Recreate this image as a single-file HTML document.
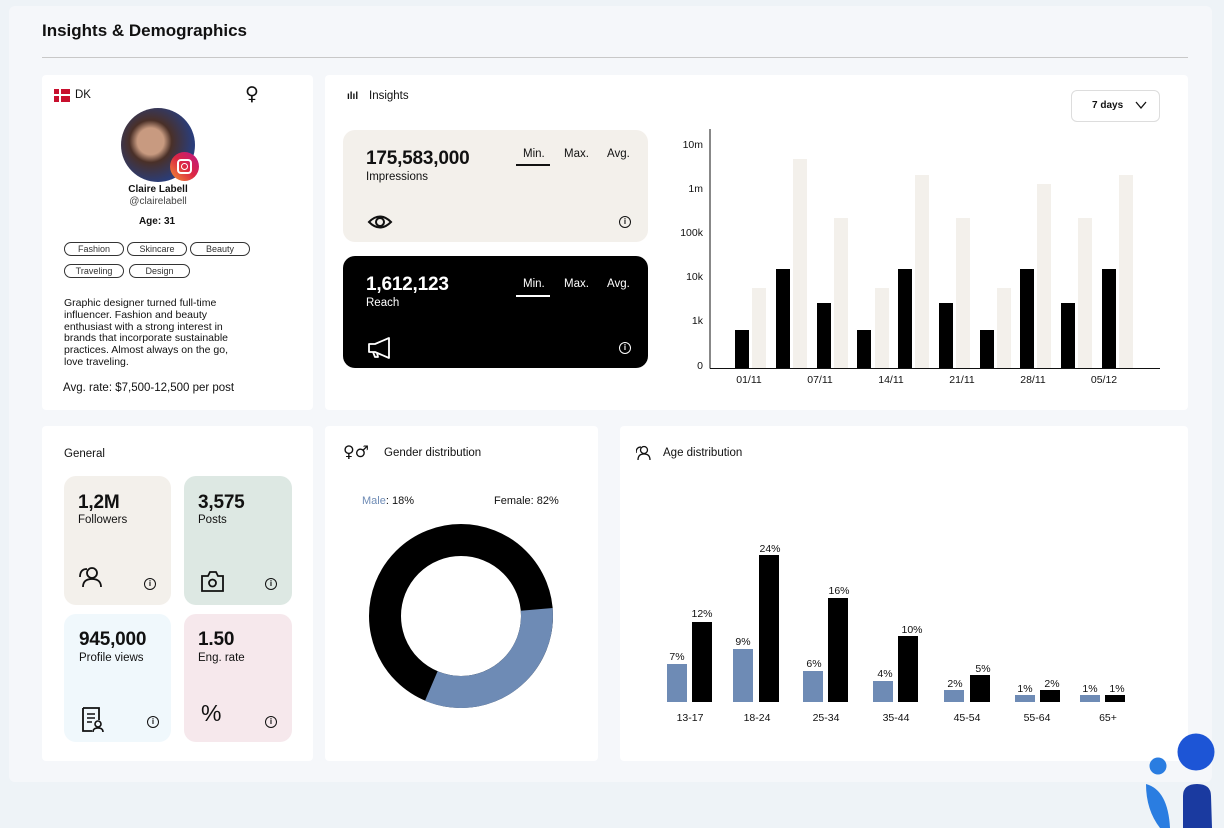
<!DOCTYPE html>
<html><head><meta charset="utf-8"><style>
*{margin:0;padding:0;box-sizing:border-box}
body{width:1224px;height:828px;background:#eef3f7;font-family:"Liberation Sans",sans-serif;color:#111;position:relative;overflow:hidden}
.a{position:absolute}
.card{position:absolute;background:#fff;border-radius:4px}
.tile{position:absolute;border-radius:12px}
.big{font-size:19px;font-weight:bold;letter-spacing:-0.2px}
.sm{font-size:11.5px}
.tag{position:absolute;height:14px;border:1px solid #333;border-radius:8px;font-size:9px;text-align:center;line-height:12px;color:#333}
.info{position:absolute;width:12px;height:12px;border:1.2px solid #111;border-radius:50%;font-size:8px;text-align:center;line-height:10px;font-weight:bold}
</style></head><body>
<div class="a" style="left:9px;top:6px;width:1203px;height:776px;background:#f5f7fa;border-radius:6px"></div>
<div class="a" style="left:42px;top:21px;font-size:17px;font-weight:bold">Insights &amp; Demographics</div>
<div class="a" style="left:42px;top:57px;width:1146px;height:1px;background:#c8c8c8"></div>

<!-- profile -->
<div class="card" style="left:42px;top:75px;width:271px;height:335px"></div>
<div class="a" style="left:54px;top:89px;width:16px;height:13px;background:#c8102e"></div>
<div class="a" style="left:59px;top:89px;width:2px;height:13px;background:#fff"></div>
<div class="a" style="left:54px;top:94px;width:16px;height:2px;background:#fff"></div>
<div class="a sm" style="left:75px;top:89px">DK</div>
<div class="a" style="left:245px;top:83px;font-size:19px;font-family:'DejaVu Sans',sans-serif">♀</div>
<div class="a" style="left:121px;top:108px;width:74px;height:74px;border-radius:50%;background:radial-gradient(circle at 40% 45%,#c89a80 0 22%,#4a3028 35%,#2a3d7a 70%)"></div>
<div class="a" style="left:170px;top:152px;width:29px;height:29px;border-radius:50%;background:linear-gradient(45deg,#f09433,#dc2743,#bc1888)"></div>
<div class="a" style="left:177px;top:159px;width:15px;height:15px;border:2px solid #fff;border-radius:4px"></div>
<div class="a" style="left:181px;top:163px;width:7px;height:7px;border:1.5px solid #fff;border-radius:50%"></div>
<div class="a" style="left:42px;top:184px;width:232px;text-align:center;font-size:10px;font-weight:bold">Claire Labell</div>
<div class="a" style="left:42px;top:196px;width:232px;text-align:center;font-size:10px;color:#444">@clairelabell</div>
<div class="a" style="left:42px;top:216px;width:230px;text-align:center;font-size:10px;font-weight:bold">Age: 31</div>
<div class="tag" style="left:64px;top:242px;width:60px">Fashion</div>
<div class="tag" style="left:127px;top:242px;width:60px">Skincare</div>
<div class="tag" style="left:190px;top:242px;width:60px">Beauty</div>
<div class="tag" style="left:64px;top:264px;width:60px">Traveling</div>
<div class="tag" style="left:129px;top:264px;width:61px">Design</div>
<div class="a" style="left:64px;top:298px;width:180px;font-size:10.5px;line-height:11.8px">Graphic designer turned full-time influencer. Fashion and beauty enthusiast with a strong interest in brands that incorporate sustainable practices. Almost always on the go, love traveling.</div>
<div class="a" style="left:63px;top:382px;font-size:11.5px">Avg. rate: $7,500-12,500 per post</div>

<!-- insights -->
<div class="card" style="left:325px;top:75px;width:863px;height:335px"></div>
<div class="a" style="left:347px;top:91px;font-size:10px;font-weight:bold">ılıl</div>
<div class="a sm" style="left:369px;top:90px">Insights</div>
<div class="a" style="left:1071px;top:90px;width:89px;height:32px;border:1px solid #ddd;border-radius:6px;font-size:10px;font-weight:bold;line-height:30px;padding-left:20px">7 days</div>
<svg class="a" style="left:1135px;top:100px" width="12" height="10"><path d="M1 2 L6 8 L11 2" fill="none" stroke="#111" stroke-width="1.3"/></svg>

<div class="tile" style="left:343px;top:130px;width:305px;height:112px;background:#f3f0eb"></div>
<div class="a big" style="left:366px;top:148px">175,583,000</div>
<div class="a sm" style="left:366px;top:171px">Impressions</div>
<div class="a sm" style="left:523px;top:148px">Min.</div>
<div class="a" style="left:516px;top:164px;width:34px;height:1.5px;background:#111"></div>
<div class="a sm" style="left:564px;top:148px">Max.</div>
<div class="a sm" style="left:607px;top:148px">Avg.</div>
<svg class="a" style="left:367px;top:212px" width="26" height="20"><path d="M2 10 Q13 -1 24 10 Q13 21 2 10Z" fill="none" stroke="#111" stroke-width="2"/><circle cx="13" cy="10" r="4" fill="none" stroke="#111" stroke-width="2"/></svg>
<div class="info" style="left:619px;top:216px">i</div>

<div class="tile" style="left:343px;top:256px;width:305px;height:112px;background:#000"></div>
<div class="a big" style="left:366px;top:274px;color:#fff">1,612,123</div>
<div class="a sm" style="left:366px;top:297px;color:#fff">Reach</div>
<div class="a sm" style="left:523px;top:278px;color:#fff">Min.</div>
<div class="a" style="left:516px;top:295px;width:34px;height:1.5px;background:#fff"></div>
<div class="a sm" style="left:564px;top:278px;color:#fff">Max.</div>
<div class="a sm" style="left:607px;top:278px;color:#fff">Avg.</div>
<svg class="a" style="left:367px;top:336px" width="26" height="24"><path d="M2 8 L8 8 L22 2 L22 22 L8 16 L2 16Z M6 16 L8 21 L11 21 L10 17" fill="none" stroke="#fff" stroke-width="1.8" stroke-linejoin="round"/></svg>
<div class="info" style="left:619px;top:342px;border-color:#fff;color:#fff">i</div>

<svg class="a" style="left:0;top:0" width="1224" height="828">
<g font-family="Liberation Sans" font-size="10.5" fill="#111" text-anchor="end">
<text x="703" y="148">10m</text><text x="703" y="192">1m</text><text x="703" y="236">100k</text><text x="703" y="280">10k</text><text x="703" y="324">1k</text><text x="703" y="369">0</text>
</g>
<g fill="#f3f0eb">
<rect x="752" y="288" width="14" height="80"/><rect x="793" y="159" width="14" height="209"/><rect x="834" y="218" width="14" height="150"/><rect x="875" y="288" width="14" height="80"/><rect x="915" y="175" width="14" height="193"/><rect x="956" y="218" width="14" height="150"/><rect x="997" y="288" width="14" height="80"/><rect x="1037" y="184" width="14" height="184"/><rect x="1078" y="218" width="14" height="150"/><rect x="1119" y="175" width="14" height="193"/>
</g>
<g fill="#000">
<rect x="735" y="330" width="14" height="38"/><rect x="776" y="269" width="14" height="99"/><rect x="817" y="303" width="14" height="65"/><rect x="857" y="330" width="14" height="38"/><rect x="898" y="269" width="14" height="99"/><rect x="939" y="303" width="14" height="65"/><rect x="980" y="330" width="14" height="38"/><rect x="1020" y="269" width="14" height="99"/><rect x="1061" y="303" width="14" height="65"/><rect x="1102" y="269" width="14" height="99"/>
</g>
<line x1="710" y1="129" x2="710" y2="368.5" stroke="#111" stroke-width="1"/>
<line x1="710" y1="368.5" x2="1160" y2="368.5" stroke="#111" stroke-width="1"/>
<g font-family="Liberation Sans" font-size="10.5" fill="#111" text-anchor="middle">
<text x="749" y="383">01/11</text><text x="820" y="383">07/11</text><text x="891" y="383">14/11</text><text x="962" y="383">21/11</text><text x="1033" y="383">28/11</text><text x="1104" y="383">05/12</text>
</g>
</svg>

<!-- general -->
<div class="card" style="left:42px;top:426px;width:271px;height:335px"></div>
<div class="a sm" style="left:64px;top:448px">General</div>
<div class="tile" style="left:64px;top:476px;width:107px;height:129px;background:#f3f0eb"></div>
<div class="tile" style="left:184px;top:476px;width:108px;height:129px;background:#dde8e3"></div>
<div class="tile" style="left:64px;top:614px;width:107px;height:128px;background:#f0f8fc"></div>
<div class="tile" style="left:184px;top:614px;width:108px;height:128px;background:#f6e8ec"></div>
<div class="a big" style="left:78px;top:492px">1,2M</div><div class="a sm" style="left:78px;top:514px">Followers</div>
<div class="a big" style="left:198px;top:492px">3,575</div><div class="a sm" style="left:198px;top:514px">Posts</div>
<div class="a big" style="left:79px;top:629px">945,000</div><div class="a sm" style="left:79px;top:652px">Profile views</div>
<div class="a big" style="left:198px;top:629px">1.50</div><div class="a sm" style="left:198px;top:652px">Eng. rate</div>
<svg class="a" style="left:78px;top:565px" width="26" height="26"><circle cx="14" cy="8" r="5" fill="none" stroke="#111" stroke-width="1.8"/><path d="M5 22 Q5 14 14 14 Q23 14 23 22 M2 12 Q2 4 9 4" fill="none" stroke="#111" stroke-width="1.8"/></svg>
<svg class="a" style="left:200px;top:570px" width="26" height="24"><path d="M2 6 L8 6 L10 2 L16 2 L18 6 L23 6 L23 21 L2 21Z" fill="none" stroke="#111" stroke-width="1.8"/><circle cx="12.5" cy="13" r="3.5" fill="none" stroke="#111" stroke-width="1.8"/></svg>
<svg class="a" style="left:81px;top:707px" width="24" height="26"><path d="M2 1 L18 1 L18 13 M11 24 L2 24 L2 1" fill="none" stroke="#111" stroke-width="1.8"/><path d="M6 7 H14 M6 11 H14 M6 15 H11" stroke="#111" stroke-width="1.5"/><circle cx="17" cy="17" r="3" fill="none" stroke="#111" stroke-width="1.6"/><path d="M12 25 Q12 21 17 21 Q22 21 22 25" fill="none" stroke="#111" stroke-width="1.6"/></svg>
<div class="a" style="left:201px;top:700px;font-size:23px">%</div>
<div class="info" style="left:144px;top:578px">i</div>
<div class="info" style="left:265px;top:578px">i</div>
<div class="info" style="left:147px;top:716px">i</div>
<div class="info" style="left:265px;top:716px">i</div>

<!-- gender -->
<div class="card" style="left:325px;top:426px;width:273px;height:335px"></div>
<div class="a" style="left:343px;top:442px;font-size:16px;font-family:'DejaVu Sans',sans-serif">♀♂</div>
<div class="a sm" style="left:384px;top:447px">Gender distribution</div>
<div class="a" style="left:362px;top:495px;font-size:11px"><span style="color:#6e8bb5">Male</span>: 18%</div>
<div class="a" style="left:494px;top:495px;font-size:11px">Female: 82%</div>
<svg class="a" style="left:0;top:0" width="1224" height="828">
<circle cx="461" cy="616" r="76" fill="none" stroke="#000" stroke-width="32"/>
<path d="M552.6 608 A92 92 0 0 1 425 700.7 L437.6 671.2 A60 60 0 0 0 520.8 610.8Z" fill="#6e8bb5"/>
</svg>

<!-- age -->
<div class="card" style="left:620px;top:426px;width:568px;height:335px"></div>
<svg class="a" style="left:636px;top:445px" width="16" height="16"><circle cx="8" cy="5" r="3.5" fill="none" stroke="#111" stroke-width="1.3"/><path d="M2 15 Q2 9 8 9 Q14 9 14 15 M0 8 Q0 2 5 2" fill="none" stroke="#111" stroke-width="1.3"/></svg>
<div class="a sm" style="left:663px;top:447px">Age distribution</div>
<svg class="a" style="left:0;top:0" width="1224" height="828">
<g fill="#6e8bb5">
<rect x="667" y="664" width="20" height="38"/><rect x="733" y="649" width="20" height="53"/><rect x="803" y="671" width="20" height="31"/><rect x="873" y="681" width="20" height="21"/><rect x="944" y="690" width="20" height="12"/><rect x="1015" y="695" width="20" height="7"/><rect x="1080" y="695" width="20" height="7"/>
</g>
<g fill="#000">
<rect x="692" y="622" width="20" height="80"/><rect x="759" y="555" width="20" height="147"/><rect x="828" y="598" width="20" height="104"/><rect x="898" y="636" width="20" height="66"/><rect x="970" y="675" width="20" height="27"/><rect x="1040" y="690" width="20" height="12"/><rect x="1105" y="695" width="20" height="7"/>
</g>
<g font-family="Liberation Sans" font-size="10.5" fill="#111" text-anchor="middle">
<text x="677" y="660">7%</text><text x="702" y="617">12%</text><text x="743" y="645">9%</text><text x="770" y="552">24%</text><text x="814" y="667">6%</text><text x="839" y="594">16%</text><text x="885" y="677">4%</text><text x="912" y="633">10%</text><text x="955" y="687">2%</text><text x="983" y="672">5%</text><text x="1025" y="692">1%</text><text x="1052" y="687">2%</text><text x="1090" y="692">1%</text><text x="1117" y="692">1%</text>
<text x="690" y="721">13-17</text><text x="757" y="721">18-24</text><text x="826" y="721">25-34</text><text x="896" y="721">35-44</text><text x="967" y="721">45-54</text><text x="1037" y="721">55-64</text><text x="1108" y="721">65+</text>
</g>
<circle cx="1196" cy="752" r="18.5" fill="#1d55d6"/>
<circle cx="1158" cy="766" r="8.5" fill="#2a7de1"/>
<path d="M1146 784 Q1168 790 1170 828 L1160 828 Q1146 810 1146 784Z" fill="#2a7de1"/>
<path d="M1183 828 L1183 796 Q1183 784 1197 784 Q1211 784 1211 796 L1212 828Z" fill="#1a3aa0"/>
</svg>
</body></html>
